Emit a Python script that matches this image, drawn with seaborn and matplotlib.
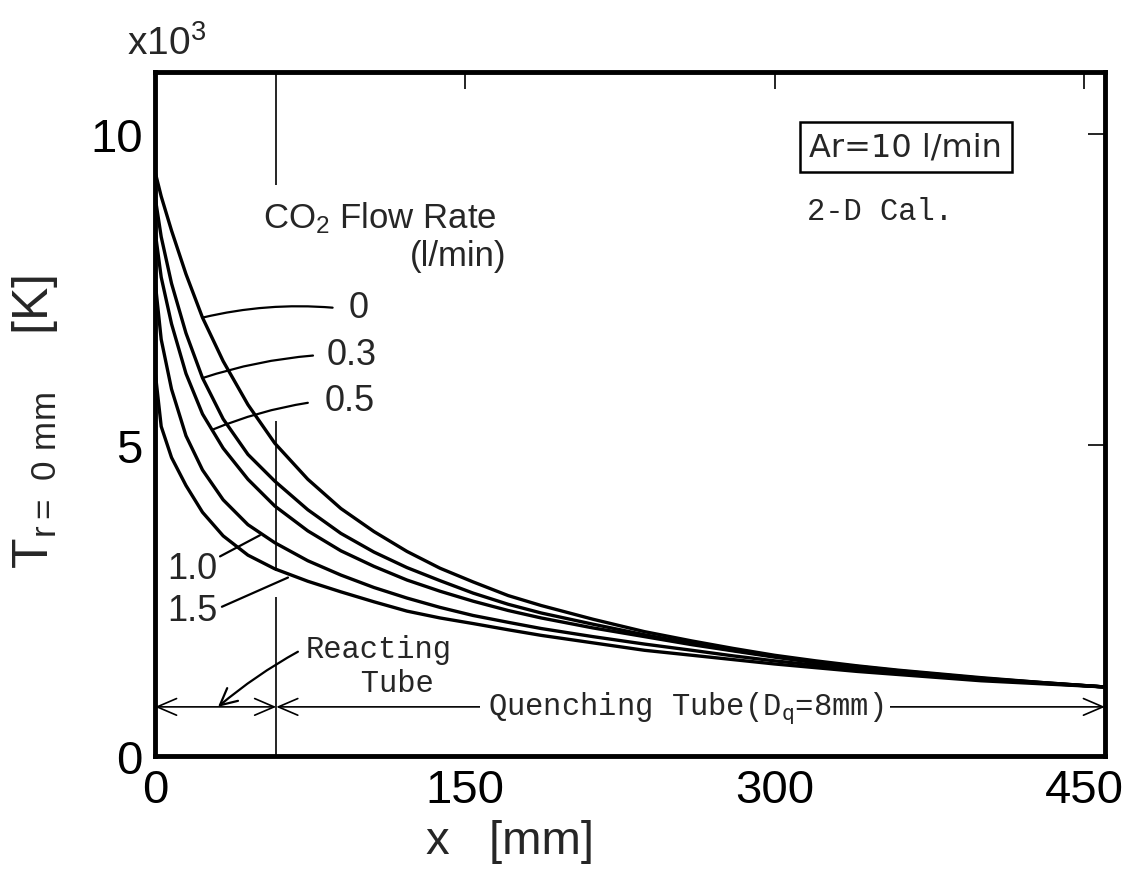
import numpy as np
import pandas as pd
import matplotlib
matplotlib.use('Agg')
import matplotlib.pyplot as plt
import seaborn as sns

# values: x [mm] along the tube, T on axis [K]
X_MM = [0, 3, 8, 15, 23, 33, 45, 58, 74, 90, 106, 122, 138, 154, 171, 187,
        212, 237, 260, 280, 300, 320, 340, 360, 380, 400, 430, 460]
T_00 = [9400, 9000, 8450, 7750, 7050, 6350, 5650, 5030, 4450, 3980, 3610, 3290, 3020, 2800,
        2580, 2420, 2200, 2000, 1850, 1730, 1620, 1530, 1450, 1380, 1320, 1260, 1180, 1110]
T_03 = [9000, 8350, 7600, 6800, 6080, 5420, 4850, 4420, 3960, 3580, 3280, 3030, 2820, 2620,
        2440, 2300, 2120, 1950, 1810, 1700, 1600, 1510, 1440, 1370, 1310, 1250, 1180, 1110]
T_05 = [8450, 7700, 6950, 6150, 5500, 4950, 4450, 4020, 3620, 3300, 3050, 2830, 2650, 2490,
        2340, 2220, 2060, 1920, 1790, 1690, 1590, 1500, 1430, 1360, 1300, 1245, 1175, 1110]
T_10 = [7650, 6700, 5900, 5150, 4600, 4120, 3720, 3430, 3140, 2910, 2710, 2540, 2390, 2260,
        2150, 2050, 1920, 1800, 1700, 1610, 1530, 1460, 1400, 1340, 1290, 1240, 1170, 1110]
T_15 = [6200, 5300, 4800, 4350, 3920, 3540, 3230, 3010, 2810, 2640, 2480, 2330, 2220, 2130,
        2030, 1940, 1820, 1700, 1620, 1550, 1480, 1420, 1360, 1310, 1260, 1210, 1160, 1110]
RATES = ['0', '0.3', '0.5', '1.0', '1.5']
X_TICKS = [0, 150, 300, 450]
Y_TICKS = [0, 5000, 10000]
Y_TICKLABELS = ['0', '5', '10']
REACT_END = 58.7   # end of reacting tube [mm]

sns.set_style('white')
plt.rcParams['font.family'] = ['Liberation Sans', 'DejaVu Sans']
plt.rcParams['mathtext.default'] = 'regular'
MONO = ['Liberation Mono', 'DejaVu Sans Mono']

df = pd.concat([pd.DataFrame({'x': X_MM, 'T': t, 'rate': r})
                for r, t in zip(RATES, [T_00, T_03, T_05, T_10, T_15])], ignore_index=True)

fig = plt.figure(figsize=(11.34, 8.78), dpi=100)
ax = fig.add_axes([155 / 1134, 1 - 757 / 878, 950 / 1134, 684 / 878])

sns.lineplot(data=df, x='x', y='T', hue='rate', palette=['black'] * 5, linewidth=2.4,
             estimator=None, legend=False, ax=ax)

ax.set_xlim(0, 460)
ax.set_ylim(0, 11000)
ax.set_xticks(X_TICKS)
ax.set_xticklabels([str(v) for v in X_TICKS])
ax.set_yticks(Y_TICKS)
ax.set_yticklabels(Y_TICKLABELS)
ax.tick_params(direction='in', length=12, width=1.2, top=True, right=True,
               labelsize=34, pad=9, color='black', labelcolor='black')
for s in ax.spines.values():
    s.set_linewidth(3.5)
    s.set_color('black')

ax.set_xlabel('x   [mm]', fontsize=34)
ax.xaxis.set_label_coords(0.374, -0.092)
ax.set_ylabel(r'T$_{\mathregular{r=\ 0\ mm}}$    [K]', fontsize=36)
ax.yaxis.set_label_coords(-0.1, 0.49)
fig.text(127 / 1134, 1 - 55 / 878, r'x10$^{3}$', fontsize=28, va='baseline')

# reacting tube boundary
ax.vlines(REACT_END, 9190, 11000, color='black', lw=1.2)
ax.vlines(REACT_END, 2970, 5390, color='black', lw=1.2)
ax.vlines(REACT_END, 0, 2560, color='black', lw=1.2)

# flow-rate labels and leader lines
ax.text(108.6, 8660, r'CO$_2$ Flow Rate', fontsize=25, ha='center', va='center')
ax.text(147, 8050, '(l/min)', fontsize=25, ha='center', va='center')
leaders = [((23, 7050), (86, 7210), 0.08), ((23.2, 6080), (76.5, 6440), 0.06),
           ((28, 5250), (74, 5680), 0.06), ((31.5, 3210), (50.8, 3550), 0.0),
           ((32.4, 2400), (64.4, 2870), 0.0)]
for (p0, p1, rad) in leaders:
    ax.annotate('', xy=p0, xytext=p1,
                arrowprops=dict(arrowstyle='-', lw=1.6, color='black', shrinkA=0, shrinkB=0,
                                connectionstyle=f'arc3,rad={rad}'))
label_pos = [(98.8, 7210), (95.4, 6450), (94.4, 5725), (17.9, 3016), (17.9, 2339)]
for r, (lx, ly) in zip(RATES, label_pos):
    ax.text(lx, ly, r, fontsize=26, ha='center', va='center')

ax.text(363.5, 9800, 'Ar=10 l/min', fontsize=23, family='DejaVu Sans', ha='center', va='center',
        bbox=dict(boxstyle='square,pad=0.3', facecolor='white', edgecolor='black', lw=1.8))
ax.text(351, 8770, '2-D Cal.', fontsize=22, family=MONO, ha='center', va='center')

# tube arrows
arrow_kw = dict(arrowstyle='<->,head_length=0.7,head_width=0.3', lw=1.2, color='black',
                shrinkA=0, shrinkB=0, mutation_scale=20)
ax.annotate('', xy=(0, 790), xytext=(REACT_END, 790), arrowprops=arrow_kw)
ax.annotate('', xy=(REACT_END, 790), xytext=(460, 790), arrowprops=arrow_kw)
ax.text(256.7, 790, r'Quenching Tube(D$_\mathtt{q}$=8mm)', fontsize=22, family=MONO,
        ha='center', va='center', bbox=dict(facecolor='white', edgecolor='none', pad=5))
ax.text(73, 1450, 'Reacting\n   Tube', fontsize=22, family=MONO, ha='left', va='center',
        linespacing=1.15)
ax.annotate('', xy=(30.5, 790), xytext=(69.2, 1677),
            arrowprops=dict(arrowstyle='->,head_length=0.6,head_width=0.3', lw=1.6,
                            color='black', shrinkA=0, shrinkB=0, mutation_scale=20,
                            connectionstyle='arc3,rad=0.05'))

fig.savefig('out.png', dpi=100)
